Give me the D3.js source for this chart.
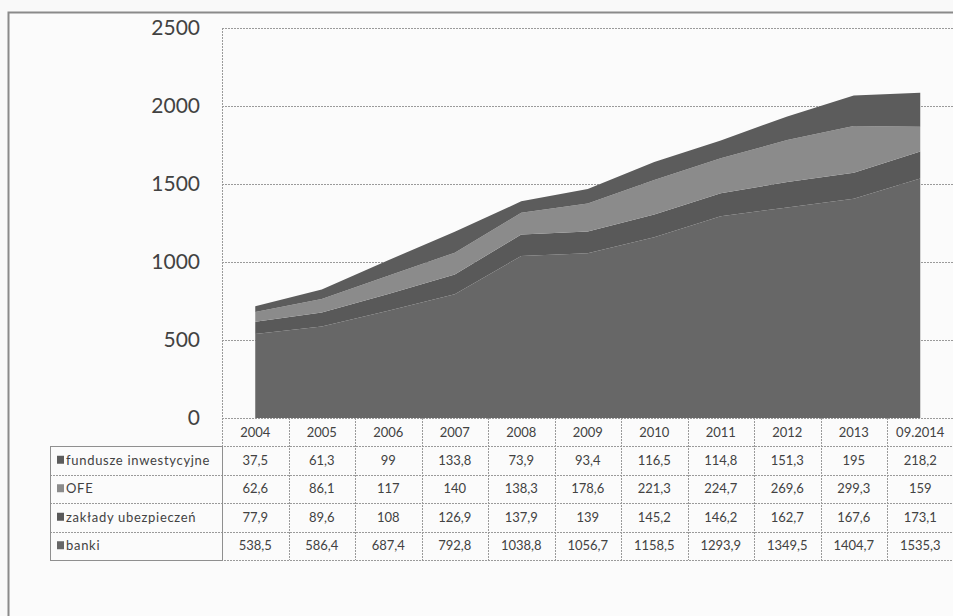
<!DOCTYPE html>
<html>
<head>
<meta charset="utf-8">
<script src="https://cdn.jsdelivr.net/npm/d3@7"></script>
<style>
  body { margin: 0; background: #f9f9f9; }
  svg { display: block; }
</style>
</head>
<body>
<svg width="953" height="616"></svg>
<script>
// years / columns of the data table
const years = ["2004", "2005", "2006", "2007", "2008", "2009", "2010", "2011", "2012", "2013", "09.2014"];
// series (bottom of the stack first)
const banki = [538.5, 586.4, 687.4, 792.8, 1038.8, 1056.7, 1158.5, 1293.9, 1349.5, 1404.7, 1535.3];
const zaklady = [77.9, 89.6, 108, 126.9, 137.9, 139, 145.2, 146.2, 162.7, 167.6, 173.1];
const ofe = [62.6, 86.1, 117, 140, 138.3, 178.6, 221.3, 224.7, 269.6, 299.3, 159];
const fundusze = [37.5, 61.3, 99, 133.8, 73.9, 93.4, 116.5, 114.8, 151.3, 195, 218.2];
const yTicks = [0, 500, 1000, 1500, 2000, 2500];

const series = [
  {key: "banki", name: "banki", values: banki, color: "#676767"},
  {key: "zaklady", name: "zakłady ubezpieczeń", values: zaklady, color: "#595959"},
  {key: "ofe", name: "OFE", values: ofe, color: "#8b8b8b"},
  {key: "fundusze", name: "fundusze inwestycyjne", values: fundusze, color: "#5c5c5c"}
];

const rows = years.map((yr, i) => {
  const r = {year: yr};
  series.forEach(s => r[s.key] = s.values[i]);
  return r;
});

const svg = d3.select("svg");
const plotLeft = 222, plotTop = 28, plotBottom = 418;
const colW = 66.5;
const rowH = 28.5;
const grid = "#9a9a9a";
const txt = "#424242";

// outer frame (cut off by the picture at right / bottom)
svg.append("rect")
  .attr("x", 8.5).attr("y", 12.5)
  .attr("width", 960).attr("height", 620)
  .attr("fill", "#fbfbfb")
  .attr("stroke", "#8a8a8a").attr("stroke-width", 2);

const x = d3.scaleBand().domain(years).range([plotLeft, plotLeft + colW * years.length]);
const y = d3.scaleLinear().domain([0, 2500]).range([plotBottom, plotTop]);

// gridlines
svg.append("g")
  .selectAll("line")
  .data(yTicks)
  .join("line")
    .attr("x1", plotLeft).attr("x2", 953)
    .attr("y1", d => Math.round(y(d)) + 0.5).attr("y2", d => Math.round(y(d)) + 0.5)
    .attr("stroke", grid).attr("stroke-dasharray", "2,1");

svg.append("line")
  .attr("x1", plotLeft + 0.5).attr("x2", plotLeft + 0.5)
  .attr("y1", plotTop).attr("y2", plotBottom)
  .attr("stroke", grid).attr("stroke-dasharray", "2,1");

// stacked areas
const stack = d3.stack().keys(series.map(s => s.key));
const layers = stack(rows);
const area = d3.area()
  .x(d => x(d.data.year) + x.bandwidth() / 2)
  .y0(d => y(d[0]))
  .y1(d => y(d[1]));

svg.append("g")
  .selectAll("path")
  .data(layers)
  .join("path")
    .attr("d", area)
    .attr("fill", (d, i) => series[i].color);

// y axis labels
svg.append("g")
  .attr("transform", `translate(${plotLeft},0)`)
  .call(d3.axisLeft(y).tickValues(yTicks).tickSize(0).tickPadding(22).tickFormat(d3.format("d")))
  .call(g => g.select(".domain").remove())
  .call(g => g.selectAll("text")
    .attr("fill", txt)
    .style("font-family", "Lato, 'Open Sans', sans-serif")
    .style("font-size", "21px"));

// data table
const fmt = v => String(v).replace(".", ",");
const tbl = svg.append("g").style("font-family", "Lato, 'Open Sans', sans-serif");
const tableTop = plotBottom;
const headerH = 28;
const tableRows = series.slice().reverse();
const tableBottom = tableTop + headerH + rowH * tableRows.length;

// header row text
tbl.selectAll("text.yr")
  .data(years)
  .join("text")
    .attr("class", "yr")
    .attr("x", d => x(d) + x.bandwidth() / 2)
    .attr("y", tableTop + headerH / 2)
    .attr("dy", "0.35em")
    .attr("text-anchor", "middle")
    .attr("fill", txt)
    .style("font-size", "13px")
    .text(d => d);

// value cells
tableRows.forEach((s, r) => {
  const cy = tableTop + headerH + rowH * r + rowH / 2;
  tbl.append("g")
    .selectAll("text")
    .data(s.values)
    .join("text")
      .attr("x", (d, i) => x(years[i]) + x.bandwidth() / 2)
      .attr("y", cy)
      .attr("dy", "0.35em")
      .attr("text-anchor", "middle")
      .attr("fill", txt)
      .style("font-size", "13px")
      .text(fmt);
  // row label with key
  tbl.append("rect")
    .attr("x", 57).attr("y", cy - 4.5)
    .attr("width", 7).attr("height", 8)
    .attr("fill", s.color);
  tbl.append("text")
    .attr("x", 66).attr("y", cy)
    .attr("dy", "0.35em")
    .attr("fill", txt)
    .style("font-size", "13px")
    .style("letter-spacing", "0.7px")
    .text(s.name);
});

// table lines
const hLines = [tableTop + headerH].concat(tableRows.map((s, r) => tableTop + headerH + rowH * (r + 1)));
tbl.append("g")
  .selectAll("line")
  .data(hLines)
  .join("line")
    .attr("x1", 50).attr("x2", 953)
    .attr("y1", d => Math.round(d) + 0.5).attr("y2", d => Math.round(d) + 0.5)
    .attr("stroke", grid).attr("stroke-dasharray", "2,1");

tbl.append("g")
  .selectAll("line")
  .data(years.map(yr => x(yr)).concat([x(years[years.length - 1]) + x.bandwidth()]))
  .join("line")
    .attr("x1", d => Math.round(d) + 0.5).attr("x2", d => Math.round(d) + 0.5)
    .attr("y1", tableTop).attr("y2", tableBottom)
    .attr("stroke", grid).attr("stroke-dasharray", "2,1");

// label column box
tbl.append("rect")
  .attr("x", 50.5).attr("y", Math.round(tableTop + headerH) + 0.5)
  .attr("width", plotLeft - 50).attr("height", rowH * tableRows.length)
  .attr("fill", "none")
  .attr("stroke", "#8f8f8f");
</script>
</body>
</html>
